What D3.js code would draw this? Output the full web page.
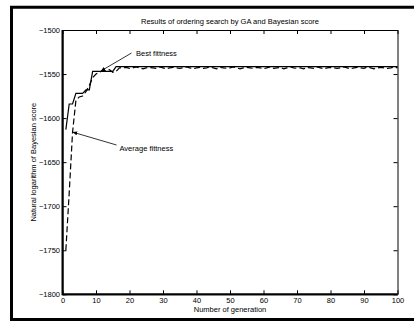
<!DOCTYPE html>
<html>
<head>
<meta charset="utf-8">
<title>GA ordering search</title>
<script src="https://cdn.jsdelivr.net/npm/d3@7/dist/d3.min.js"></script>
<style>
body { margin: 0; background: #fff; }
svg { font-family: "Liberation Sans", Arial, sans-serif; }
.axis text { font-size: 7.5px; fill: #000; }
.axis line, .axis path { stroke: #000; }
</style>
</head>
<body>
<script>
  // data (generation 1..100)
  var bestFitness = [
    -1613, -1584, -1584, -1572, -1572, -1572, -1568, -1568, -1547, -1547,
    -1547, -1547, -1547, -1547, -1547, -1541.5, -1541.5, -1541.5, -1541.5, -1541.5,
    -1541.5, -1541.5, -1541.5, -1541.5, -1541.5, -1541.5, -1541.5, -1541.5, -1541.5, -1541.5,
    -1541.5, -1541.5, -1541.5, -1541.5, -1541.5, -1541.5, -1541.5, -1541.5, -1541.5, -1541.5,
    -1541.5, -1541.5, -1541.5, -1541.5, -1541.5, -1541.5, -1541.5, -1541.5, -1541.5, -1541.5,
    -1541.5, -1541.5, -1541.5, -1541.5, -1541.5, -1541.5, -1541.5, -1541.5, -1541.5, -1541.5,
    -1541.5, -1541.5, -1541.5, -1541.5, -1541.5, -1541.5, -1541.5, -1541.5, -1541.5, -1541.5,
    -1541.5, -1541.5, -1541.5, -1541.5, -1541.5, -1541.5, -1541.5, -1541.5, -1541.5, -1541.5,
    -1541.5, -1541.5, -1541.5, -1541.5, -1541.5, -1541.5, -1541.5, -1541.5, -1541.5, -1541.5,
    -1541.5, -1541.5, -1541.5, -1541.5, -1541.5, -1541.5, -1541.5, -1541.5, -1541.5, -1541.5
  ];
  var averageFitness = [
    -1750, -1685, -1616, -1580, -1576, -1575, -1570, -1563, -1554, -1550,
    -1548, -1546, -1546, -1545, -1548, -1547, -1543, -1543, -1542.5, -1543.5,
    -1543, -1542, -1543, -1544, -1543, -1542.5, -1543, -1543.5, -1542, -1543,
    -1544, -1543, -1542.5, -1543, -1543.5, -1543, -1542, -1543, -1544, -1543,
    -1542.5, -1543.5, -1543, -1542, -1543, -1544, -1542.5, -1543, -1543.5, -1543,
    -1542, -1543, -1544, -1543, -1542.5, -1543, -1543.5, -1542.5, -1543, -1544,
    -1543, -1542, -1543.5, -1543, -1542.5, -1544, -1543, -1542, -1543, -1543.5,
    -1543, -1544, -1542.5, -1543, -1543.5, -1542, -1543, -1544, -1543, -1542.5,
    -1543, -1543.5, -1543, -1542, -1543, -1544, -1543, -1542.5, -1543, -1543.5,
    -1542, -1543, -1544, -1543, -1542.5, -1543, -1543.5, -1543, -1542, -1543
  ];
  var xTicks = [0, 10, 20, 30, 40, 50, 60, 70, 80, 90, 100];
  var yTicks = [-1800, -1750, -1700, -1650, -1600, -1550, -1500];

  var width = 414, height = 326;
  var plotL = 62.5, plotR = 397.5, plotT = 30, plotB = 294.3;

  var svg = d3.select("body").append("svg")
    .attr("width", width).attr("height", height);

  svg.append("rect").attr("width", width).attr("height", height).attr("fill", "#fff");

  // outer frame (right side runs off the picture)
  svg.append("path")
    .attr("d", "M" + (width + 5) + ",7.2 H11.5 V319.5 H" + (width + 5))
    .attr("fill", "none").attr("stroke", "#000").attr("stroke-width", 3);

  var x = d3.scaleLinear().domain([0, 100]).range([plotL, plotR]);
  var y = d3.scaleLinear().domain([-1800, -1500]).range([plotB, plotT]);

  // axes with inward ticks
  svg.append("g").attr("class", "axis")
    .attr("transform", "translate(0," + plotB + ")")
    .call(d3.axisBottom(x).tickValues(xTicks).tickSizeInner(-4).tickSizeOuter(0).tickPadding(3));
  svg.append("g").attr("class", "axis")
    .attr("transform", "translate(0," + plotT + ")")
    .call(d3.axisTop(x).tickValues(xTicks).tickSizeInner(-4).tickSizeOuter(0).tickFormat(""));
  svg.append("g").attr("class", "axis")
    .attr("transform", "translate(" + plotL + ",0)")
    .call(d3.axisLeft(y).tickValues(yTicks).tickSizeInner(-4).tickSizeOuter(0)
      .tickPadding(2.5).tickFormat(d3.format("d")));
  svg.append("g").attr("class", "axis")
    .attr("transform", "translate(" + plotR + ",0)")
    .call(d3.axisRight(y).tickValues(yTicks).tickSizeInner(-4).tickSizeOuter(0).tickFormat(""));

  // thicker left and bottom spines
  svg.append("line").attr("x1", plotL).attr("x2", plotL).attr("y1", plotT).attr("y2", plotB + 1)
    .attr("stroke", "#000").attr("stroke-width", 2);
  svg.append("line").attr("x1", plotL).attr("x2", plotR).attr("y1", plotB).attr("y2", plotB)
    .attr("stroke", "#000").attr("stroke-width", 2);

  var line = d3.line()
    .x(function(d, i) { return x(i + 1); })
    .y(function(d) { return y(d); });

  svg.append("path").datum(bestFitness)
    .attr("d", line).attr("fill", "none")
    .attr("stroke", "#000").attr("stroke-width", 1.2);

  svg.append("path").datum(averageFitness)
    .attr("d", line).attr("fill", "none")
    .attr("stroke", "#000").attr("stroke-width", 1.2)
    .attr("stroke-dasharray", "6,3");

  // arrows
  svg.append("defs").append("marker")
    .attr("id", "head").attr("viewBox", "0 0 10 10")
    .attr("refX", 9).attr("refY", 5)
    .attr("markerWidth", 6).attr("markerHeight", 6)
    .attr("orient", "auto")
    .append("path").attr("d", "M0,1 L10,5 L0,9 Z").attr("fill", "#000");

  svg.append("line")
    .attr("x1", 131.5).attr("y1", 53).attr("x2", x(11.5)).attr("y2", y(-1547) - 0.5)
    .attr("stroke", "#000").attr("stroke-width", 0.8).attr("marker-end", "url(#head)");
  svg.append("line")
    .attr("x1", 116.5).attr("y1", 145).attr("x2", x(3.1)).attr("y2", y(-1616))
    .attr("stroke", "#000").attr("stroke-width", 0.8).attr("marker-end", "url(#head)");

  svg.append("text").attr("x", 136).attr("y", 55.5)
    .attr("font-size", 7.5).text("Best fittness");
  svg.append("text").attr("x", 119.5).attr("y", 151)
    .attr("font-size", 7.5).text("Average fittness");

  // titles
  svg.append("text").attr("x", (plotL + plotR) / 2).attr("y", 24)
    .attr("text-anchor", "middle").attr("font-size", 7.5)
    .text("Results of ordering search by GA and Bayesian score");
  svg.append("text").attr("x", (plotL + plotR) / 2).attr("y", 312)
    .attr("text-anchor", "middle").attr("font-size", 7.5)
    .text("Number of generation");
  svg.append("text")
    .attr("transform", "translate(36," + ((plotT + plotB) / 2) + ") rotate(-90)")
    .attr("text-anchor", "middle").attr("font-size", 7.5)
    .text("Natural logarithm of Bayesian score");
</script>
</body>
</html>
